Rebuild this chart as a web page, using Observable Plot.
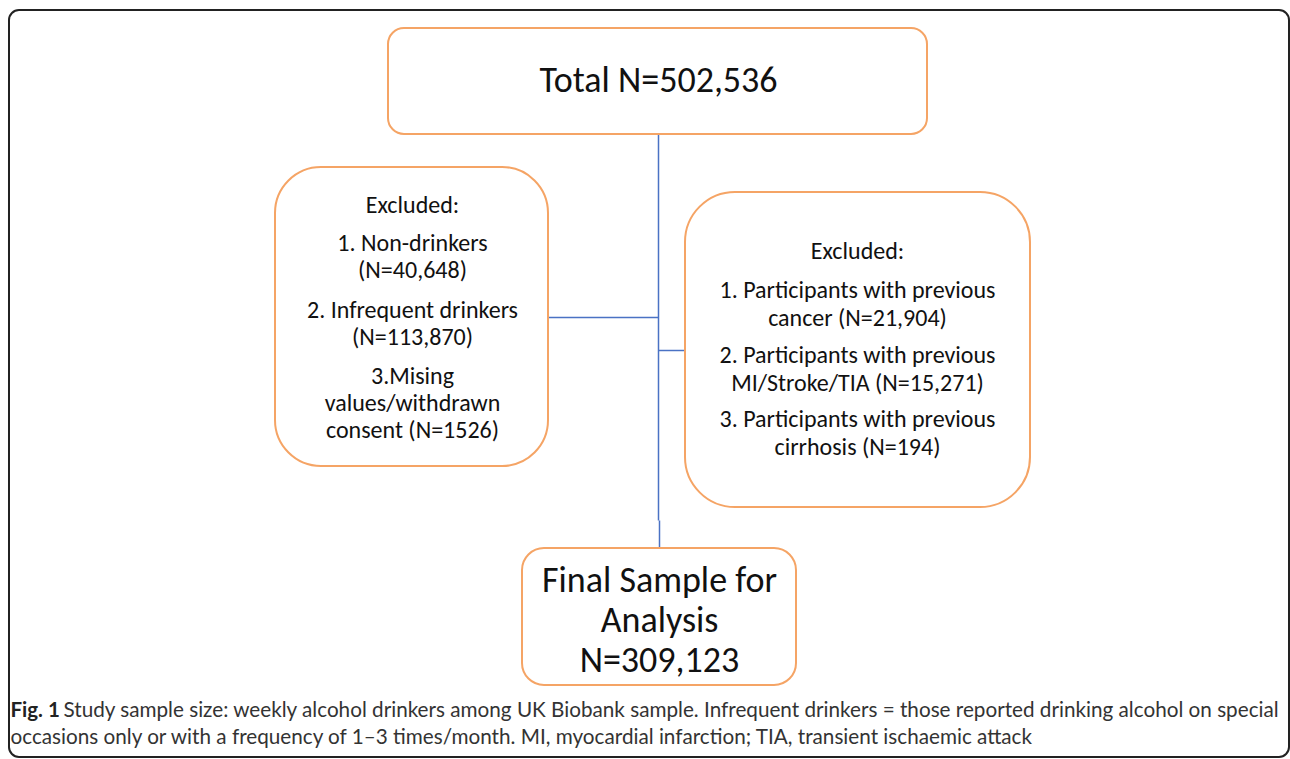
<!DOCTYPE html>
<html>
<head>
<meta charset="utf-8">
<script src="https://cdn.jsdelivr.net/npm/d3@7"></script>
<script src="https://cdn.jsdelivr.net/npm/@observablehq/plot@0.6"></script>
<style>
  html, body { margin: 0; padding: 0; background: #fff; }
  svg { display: block; }
</style>
</head>
<body>
<div id="chart"></div>
<script>
// ---- data ----
const totalN = "502,536";
const finalN = "309,123";
const leftExclusions = ["Excluded:", "1. Non-drinkers", "(N=40,648)", "2. Infrequent drinkers", "(N=113,870)", "3.Mising", "values/withdrawn", "consent (N=1526)"];
const rightExclusions = ["Excluded:", "1. Participants with previous", "cancer (N=21,904)", "2. Participants with previous", "MI/Stroke/TIA (N=15,271)", "3. Participants with previous", "cirrhosis (N=194)"];
const finalLines = ["Final Sample for", "Analysis", "N=" + finalN];
const captionBold = "Fig. 1";
const captionLines = [
  "Study sample size: weekly alcohol drinkers among UK Biobank sample. Infrequent drinkers = those reported drinking alcohol on special",
  "occasions only or with a frequency of 1–3 times/month. MI, myocardial infarction; TIA, transient ischaemic attack"
];

// ---- layout (pixel space of the figure) ----
const boxes = [
  {id: "total", x1: 388, x2: 927, y1: 28, y2: 134, r: 16},
  {id: "left", x1: 275, x2: 548, y1: 167, y2: 466, r: 46},
  {id: "right", x1: 685, x2: 1030, y1: 192, y2: 507, r: 50},
  {id: "final", x1: 522, x2: 796, y1: 548, y2: 685, r: 22}
];
const connectors = [
  {x1: 658, y1: 134, x2: 658, y2: 520},
  {x1: 659, y1: 520, x2: 659, y2: 548},
  {x1: 548, y1: 317, x2: 658, y2: 317},
  {x1: 658, y1: 350, x2: 685, y2: 350}
];
const leftY = [205, 243, 270, 310, 337, 376, 403, 430];
const rightY = [251, 290, 318, 355, 383, 419, 447];
const finalY = [580, 620, 660];

const leftText = leftExclusions.map((t, i) => ({t, x: 412, y: leftY[i]}));
const rightText = rightExclusions.map((t, i) => ({t, x: 857, y: rightY[i]}));
const finalText = finalLines.map((t, i) => ({t, x: 659, y: finalY[i]}));

const F = "Carlito, Lato, 'Open Sans', sans-serif";
const CF = "Lato, 'Open Sans', sans-serif";
const orange = "#f5a465";
const blue = "#4a72c4";

const boxMarks = boxes.map(b => Plot.rect([b], {x1: "x1", x2: "x2", y1: "y1", y2: "y2", fill: "white", stroke: orange, strokeWidth: 2, rx: b.r}));

const chart = Plot.plot({
  width: 1290,
  height: 759,
  margin: 0,
  x: {domain: [0, 1290], axis: null},
  y: {domain: [0, 759], range: [0, 759], axis: null},
  style: {background: "#fff"},
  marks: [
    // outer frame
    Plot.rect([{x1: 9, x2: 1289, y1: 10, y2: 757}], {x1: "x1", x2: "x2", y1: "y1", y2: "y2", fill: "none", stroke: "#222", strokeWidth: 2, rx: 10}),
    // connectors
    Plot.link(connectors, {x1: "x1", y1: "y1", x2: "x2", y2: "y2", stroke: blue, strokeWidth: 1.5}),
    // boxes
    ...boxMarks,
    // texts
    Plot.text(["Total N=" + totalN], {x: 658, y: 80, text: d => d, fontSize: 36, fontFamily: F, fill: "#111"}),
    Plot.text(leftText, {x: "x", y: "y", text: "t", fontSize: 24, fontFamily: F, fill: "#111"}),
    Plot.text(rightText, {x: "x", y: "y", text: "t", fontSize: 24, fontFamily: F, fill: "#111"}),
    Plot.text(finalText, {x: "x", y: "y", text: "t", fontSize: 36, fontFamily: F, fill: "#111"}),
    // caption
    Plot.text([captionBold], {x: 10, y: 710, text: d => d, textAnchor: "start", fontSize: 20.5, fontWeight: "bold", fontFamily: CF, fill: "#222"}),
    Plot.text([captionLines[0]], {x: 63, y: 710, text: d => d, textAnchor: "start", fontSize: 20.7, fontFamily: CF, fill: "#333"}),
    Plot.text([captionLines[1]], {x: 10, y: 737, text: d => d, textAnchor: "start", fontSize: 20.7, fontFamily: CF, fill: "#333"})
  ]
});
document.getElementById("chart").appendChild(chart);
</script>
</body>
</html>
